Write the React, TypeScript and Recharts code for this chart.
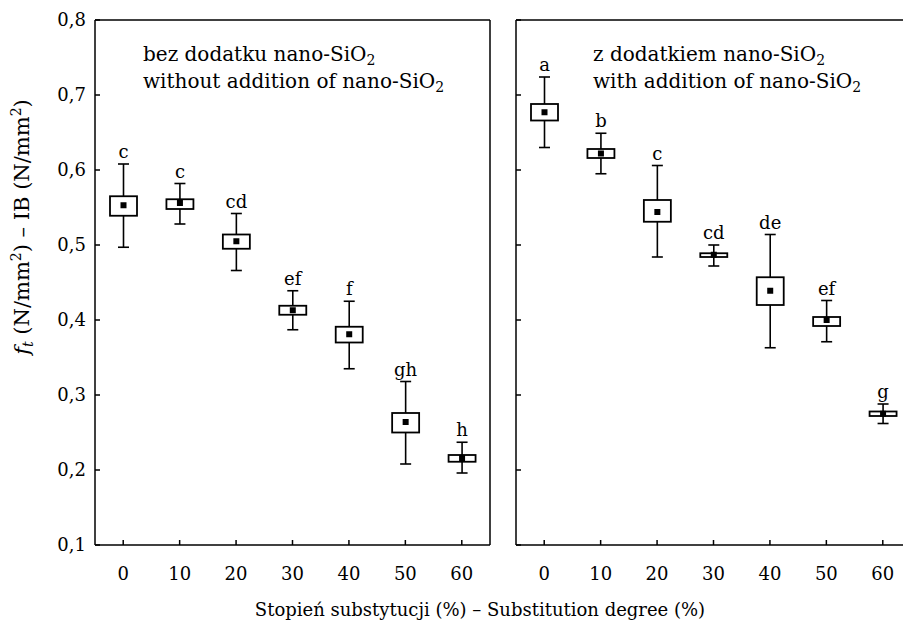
import React from "react";
import { ComposedChart, Bar, XAxis, YAxis } from "recharts";

const degrees = ["0", "10", "20", "30", "40", "50", "60"];
const yTicks = [0.1, 0.2, 0.3, 0.4, 0.5, 0.6, 0.7, 0.8];

// bez dodatku nano-SiO2
const meanA = [0.553, 0.556, 0.505, 0.413, 0.381, 0.264, 0.216];
const boxLoA = [0.539, 0.548, 0.495, 0.407, 0.37, 0.25, 0.211];
const boxHiA = [0.565, 0.561, 0.514, 0.419, 0.391, 0.276, 0.22];
const whLoA = [0.497, 0.528, 0.466, 0.387, 0.335, 0.208, 0.196];
const whHiA = [0.608, 0.582, 0.542, 0.439, 0.425, 0.318, 0.237];
const lettersA = ["c", "c", "cd", "ef", "f", "gh", "h"];

// z dodatkiem nano-SiO2
const meanB = [0.677, 0.622, 0.544, 0.487, 0.439, 0.4, 0.275];
const boxLoB = [0.666, 0.616, 0.531, 0.484, 0.42, 0.392, 0.272];
const boxHiB = [0.688, 0.628, 0.56, 0.489, 0.457, 0.404, 0.278];
const whLoB = [0.63, 0.595, 0.484, 0.472, 0.363, 0.371, 0.262];
const whHiB = [0.724, 0.649, 0.606, 0.5, 0.514, 0.426, 0.288];
const lettersB = ["a", "b", "c", "cd", "de", "ef", "g"];

const FONT = "'DejaVu Serif', serif";

type Row = {
  deg: string;
  mean: number;
  boxLo: number;
  boxHi: number;
  whLo: number;
  whHi: number;
  letter: string;
};

function rows(
  mean: number[],
  boxLo: number[],
  boxHi: number[],
  whLo: number[],
  whHi: number[],
  letters: string[]
): Row[] {
  return degrees.map((deg, i) => ({
    deg,
    mean: mean[i],
    boxLo: boxLo[i],
    boxHi: boxHi[i],
    whLo: whLo[i],
    whHi: whHi[i],
    letter: letters[i],
  }));
}

const dataA = rows(meanA, boxLoA, boxHiA, whLoA, whHiA, lettersA);
const dataB = rows(meanB, boxLoB, boxHiB, whLoB, whHiB, lettersB);

// the bar spans whisker low..high; the rest is placed on the same scale
function BoxShape(props: any) {
  const { x, y, width, height, payload } = props;
  if (x == null || payload == null) return null;
  const top = Math.min(y, y + height);
  const bottom = Math.max(y, y + height);
  const span = payload.whHi - payload.whLo;
  const py = (v: number) => bottom - ((v - payload.whLo) / span) * (bottom - top);
  const cx = x + width / 2;
  const bHi = py(payload.boxHi);
  const bLo = py(payload.boxLo);
  const m = py(payload.mean);
  const cap = 5.5;
  return (
    <g>
      <line x1={cx} x2={cx} y1={top} y2={bHi} stroke="#000" strokeWidth={1.6} />
      <line x1={cx} x2={cx} y1={bLo} y2={bottom} stroke="#000" strokeWidth={1.6} />
      <line x1={cx - cap} x2={cx + cap} y1={top} y2={top} stroke="#000" strokeWidth={1.6} />
      <line x1={cx - cap} x2={cx + cap} y1={bottom} y2={bottom} stroke="#000" strokeWidth={1.6} />
      <rect x={x} y={bHi} width={width} height={bLo - bHi} fill="#fff" stroke="#000" strokeWidth={1.8} />
      <rect x={cx - 3} y={m - 3} width={6} height={6} fill="#000" />
      <text x={cx} y={top - 6} textAnchor="middle" fontFamily={FONT} fontSize={18} fill="#000">
        {payload.letter}
      </text>
    </g>
  );
}

const axisLine = { stroke: "#000", strokeWidth: 1.5 };
const tickStyle = { fill: "#000", fontSize: 18, fontFamily: FONT };

function Panel({ data, showY }: { data: Row[]; showY: boolean }) {
  return (
    <ComposedChart
      width={500}
      height={626}
      data={data}
      margin={{ top: 19, right: 9, bottom: 51, left: 35 }}
    >
      <XAxis
        dataKey="deg"
        height={30}
        interval={0}
        tickSize={-5}
        tickMargin={27}
        axisLine={axisLine}
        tickLine={axisLine}
        tick={tickStyle}
      />
      <XAxis
        xAxisId="top"
        orientation="top"
        dataKey="deg"
        height={1}
        interval={0}
        tickSize={-5}
        axisLine={axisLine}
        tickLine={axisLine}
        tick={false}
      />
      <YAxis
        type="number"
        domain={[0.1, 0.8]}
        ticks={yTicks}
        allowDataOverflow
        width={60}
        tickSize={-5}
        tickMargin={14}
        axisLine={axisLine}
        tickLine={axisLine}
        tick={tickStyle}
        tickFormatter={(v: number) => (showY ? v.toFixed(1).replace(".", ",") : "")}
      />
      <YAxis
        yAxisId="right"
        orientation="right"
        type="number"
        domain={[0.1, 0.8]}
        ticks={yTicks}
        allowDataOverflow
        width={1}
        tickSize={-5}
        axisLine={axisLine}
        tickLine={axisLine}
        tick={false}
      />
      <Bar
        dataKey={(r: Row) => [r.whLo, r.whHi]}
        barSize={27}
        shape={BoxShape}
        isAnimationActive={false}
      />
      {/* binds the frame axes (top/right) so they get a scale; draws nothing */}
      <Bar
        xAxisId="top"
        yAxisId="right"
        dataKey={(r: Row) => [r.whLo, r.whHi]}
        barSize={1}
        shape={() => null}
        isAnimationActive={false}
      />
    </ComposedChart>
  );
}

export default function App() {
  return (
    <div
      style={{
        position: "absolute",
        left: 0,
        top: 0,
        width: 903,
        height: 626,
        overflow: "hidden",
        background: "#fff",
      }}
    >
      <div style={{ position: "absolute", left: 0, top: 0 }}>
        <Panel data={dataA} showY={true} />
      </div>
      <div style={{ position: "absolute", left: 421, top: 0 }}>
        <Panel data={dataB} showY={false} />
      </div>
      <svg
        width={903}
        height={626}
        style={{ position: "absolute", left: 0, top: 0, pointerEvents: "none" }}
        fontFamily={FONT}
        fontSize={20}
        fill="#000"
      >
        <text x={143} y={61}>
          bez dodatku nano-SiO<tspan dy={4} fontSize={14}>2</tspan>
        </text>
        <text x={143} y={88}>
          without addition of nano-SiO<tspan dy={4} fontSize={14}>2</tspan>
        </text>
        <text x={593} y={61}>
          z dodatkiem nano-SiO<tspan dy={4} fontSize={14}>2</tspan>
        </text>
        <text x={593} y={88}>
          with addition of nano-SiO<tspan dy={4} fontSize={14}>2</tspan>
        </text>
        <text transform="translate(29,227) rotate(-90)" textAnchor="middle" fontSize={21}>
          <tspan fontStyle="italic">f</tspan>
          <tspan dy={4} fontSize={14} fontStyle="italic">t</tspan>
          <tspan dy={-4}> (N/mm</tspan>
          <tspan dy={-8} fontSize={14}>2</tspan>
          <tspan dy={8}>) – IB (N/mm</tspan>
          <tspan dy={-8} fontSize={14}>2</tspan>
          <tspan dy={8}>)</tspan>
        </text>
        <text x={480} y={616} textAnchor="middle" fontSize={18}>
          Stopień substytucji (%) – Substitution degree (%)
        </text>
      </svg>
    </div>
  );
}
